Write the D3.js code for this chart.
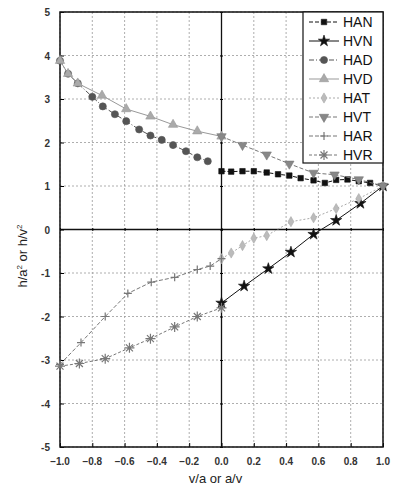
<!DOCTYPE html>
<html>
<head>
<meta charset="utf-8">
<script src="https://cdn.jsdelivr.net/npm/d3@7"></script>
<style>
  body { margin: 0; background: #fff; }
  svg { display: block; font-family: "Liberation Sans", Arial, sans-serif; }
</style>
</head>
<body>
<svg width="400" height="492"></svg>
<script>
// Series.
let hanX = [0, 0.06, 0.13, 0.2, 0.28, 0.35, 0.42, 0.49, 0.57, 0.64, 0.71, 0.78, 0.85, 0.92, 1.0];
let hanY = [1.34, 1.33, 1.34, 1.34, 1.31, 1.27, 1.24, 1.18, 1.13, 1.07, 1.14, 1.15, 1.11, 1.07, 1.0];

let hvnX = [0, 0.14, 0.29, 0.43, 0.57, 0.71, 0.86, 1.0];
let hvnY = [-1.69, -1.30, -0.90, -0.52, -0.11, 0.21, 0.60, 1.0];

let hadX = [-1.0, -0.95, -0.89, -0.80, -0.735, -0.66, -0.59, -0.51, -0.44, -0.37, -0.30, -0.22, -0.15, -0.085];
let hadY = [3.88, 3.58, 3.36, 3.05, 2.83, 2.65, 2.49, 2.30, 2.16, 2.06, 1.94, 1.80, 1.66, 1.57];

let hvdX = [-1.0, -0.95, -0.89, -0.74, -0.59, -0.44, -0.30, -0.15, 0];
let hvdY = [3.88, 3.58, 3.36, 3.08, 2.77, 2.60, 2.41, 2.26, 2.14];

let hatX = [0, 0.06, 0.13, 0.2, 0.28, 0.43, 0.57, 0.71, 0.85, 1.0];
let hatY = [-0.67, -0.54, -0.37, -0.20, -0.14, 0.18, 0.27, 0.48, 0.71, 1.0];

let hvtX = [0, 0.13, 0.28, 0.42, 0.57, 0.70, 0.85, 1.0];
let hvtY = [2.14, 1.94, 1.72, 1.51, 1.30, 1.26, 1.15, 1.0];

let harX = [-1.0, -0.87, -0.72, -0.58, -0.435, -0.29, -0.15, -0.07, 0];
let harY = [-3.10, -2.60, -2.00, -1.47, -1.21, -1.10, -0.92, -0.84, -0.67];

let hvrX = [-1.0, -0.88, -0.72, -0.57, -0.44, -0.29, -0.15, 0];
let hvrY = [-3.14, -3.08, -2.97, -2.72, -2.51, -2.24, -2.0, -1.80];

let seriesNames = ["HAN", "HVN", "HAD", "HVD", "HAT", "HVT", "HAR", "HVR"];
let xTicks = [-1.0, -0.8, -0.6, -0.4, -0.2, 0.0, 0.2, 0.4, 0.6, 0.8, 1.0];
let yTicks = [-5, -4, -3, -2, -1, 0, 1, 2, 3, 4, 5];

// Style for each series: marker, colour, line dash.
let styles = {
    HAN: { shape: "square", fill: "#111", stroke: "#111", dash: "4,2", size: 30 },
    HVN: { shape: "star", fill: "#111", stroke: "#111", dash: null, size: 40 },
    HAD: { shape: "circle", fill: "#555", stroke: "#555", dash: "5,2,1,2", size: 40 },
    HVD: { shape: "triangle", fill: "#aaa", stroke: "#999", dash: null, size: 38 },
    HAT: { shape: "diamond", fill: "#bbb", stroke: "#aaa", dash: "2,2", size: 30 },
    HVT: { shape: "tridown", fill: "#888", stroke: "#777", dash: "4,2", size: 38 },
    HAR: { shape: "plus", fill: "none", stroke: "#777", dash: "4,2", size: 4 },
    HVR: { shape: "asterisk", fill: "none", stroke: "#777", dash: "3,2", size: 5 }
};

let data = {
    HAN: d3.zip(hanX, hanY), HVN: d3.zip(hvnX, hvnY),
    HAD: d3.zip(hadX, hadY), HVD: d3.zip(hvdX, hvdY),
    HAT: d3.zip(hatX, hatY), HVT: d3.zip(hvtX, hvtY),
    HAR: d3.zip(harX, harY), HVR: d3.zip(hvrX, hvrY)
};

let svg = d3.select("svg");
let pLeft = 60, pRight = 383, pTop = 12, pBottom = 447;

let x = d3.scaleLinear().domain([-1, 1]).range([pLeft, pRight]);
let y = d3.scaleLinear().domain([-5, 5]).range([pBottom, pTop]);

// Dotted grid.
let grid = svg.append("g").attr("stroke", "#999").attr("stroke-width", 0.8).attr("stroke-dasharray", "2,2");
xTicks.forEach(function (t) {
    grid.append("line").attr("x1", x(t)).attr("x2", x(t)).attr("y1", pTop).attr("y2", pBottom);
});
yTicks.forEach(function (t) {
    grid.append("line").attr("x1", pLeft).attr("x2", pRight).attr("y1", y(t)).attr("y2", y(t));
});

// Zero lines through the middle, with cross ticks.
svg.append("line").attr("x1", pLeft).attr("x2", pRight).attr("y1", y(0)).attr("y2", y(0))
    .attr("stroke", "#111").attr("stroke-width", 1.3);
svg.append("line").attr("x1", x(0)).attr("x2", x(0)).attr("y1", pTop).attr("y2", pBottom)
    .attr("stroke", "#111").attr("stroke-width", 1.3);

let axisX = d3.axisBottom(x).tickValues(xTicks).tickSize(3).tickFormat("");
let axisY = d3.axisRight(y).tickValues(yTicks).tickSize(3).tickFormat("");
svg.append("g").attr("transform", "translate(0," + (y(0) - 1.5) + ")").call(axisX).call(g => g.select(".domain").remove());
svg.append("g").attr("transform", "translate(" + (x(0) - 1.5) + ",0)").call(axisY).call(g => g.select(".domain").remove());

// Frame axes with inward ticks and labels.
svg.append("g").attr("transform", "translate(0," + pBottom + ")")
    .call(d3.axisTop(x).tickValues(xTicks).tickSize(4).tickFormat(""))
    .call(g => g.select(".domain").remove());
svg.append("g").attr("transform", "translate(" + pLeft + ",0)")
    .call(d3.axisRight(y).tickValues(yTicks).tickSize(4).tickFormat(""))
    .call(g => g.select(".domain").remove());

svg.append("rect").attr("x", pLeft).attr("y", pTop).attr("width", pRight - pLeft).attr("height", pBottom - pTop)
    .attr("fill", "none").attr("stroke", "#111").attr("stroke-width", 1.5);

svg.append("g").selectAll("text").data(xTicks).join("text")
    .attr("x", d => x(d)).attr("y", pBottom + 18)
    .attr("text-anchor", "middle").attr("font-size", 10).attr("font-weight", "bold").attr("fill", "#333")
    .text(d => d3.format(".1f")(d));

svg.append("g").selectAll("text").data(yTicks).join("text")
    .attr("x", pLeft - 10).attr("y", d => y(d) + 4)
    .attr("text-anchor", "end").attr("font-size", 10).attr("font-weight", "bold").attr("fill", "#333")
    .text(d => d);

svg.append("text").attr("x", (pLeft + pRight) / 2 - 6).attr("y", 483)
    .attr("text-anchor", "middle").attr("font-size", 13).attr("fill", "#222")
    .text("v/a or a/v");

let yl = svg.append("text").attr("transform", "translate(27,256) rotate(-90)")
    .attr("text-anchor", "middle").attr("font-size", 13).attr("fill", "#222");
yl.append("tspan").text("h/a");
yl.append("tspan").attr("dy", -5).attr("font-size", 8).text("2");
yl.append("tspan").attr("dy", 5).text(" or h/v");
yl.append("tspan").attr("dy", -5).attr("font-size", 8).text("2");

// Marker drawing.
let markerPath = function (shape, size) {
    if (shape === "square") return d3.symbol(d3.symbolSquare, size)();
    if (shape === "star") return d3.symbol(d3.symbolStar, size)();
    if (shape === "circle") return d3.symbol(d3.symbolCircle, size)();
    if (shape === "triangle") return d3.symbol(d3.symbolTriangle, size)();
    if (shape === "tridown") return d3.symbol(d3.symbolTriangle, size)();
    if (shape === "diamond") return d3.symbol(d3.symbolDiamond, size)();
    if (shape === "plus") return "M" + (-size) + ",0H" + size + "M0," + (-size) + "V" + size;
    if (shape === "asterisk") {
        let s = size, d = size * 0.7;
        return "M" + (-s) + ",0H" + s + "M0," + (-s) + "V" + s +
            "M" + (-d) + "," + (-d) + "L" + d + "," + d + "M" + (-d) + "," + d + "L" + d + "," + (-d);
    }
};

let drawMarker = function (g, st, px, py) {
    g.append("path")
        .attr("d", markerPath(st.shape, st.size))
        .attr("transform", "translate(" + px + "," + py + ")" + (st.shape === "tridown" ? " rotate(180)" : ""))
        .attr("fill", st.fill)
        .attr("stroke", st.stroke)
        .attr("stroke-width", st.fill === "none" ? 1.2 : 0.6);
};

let line = d3.line().x(d => x(d[0])).y(d => y(d[1]));

seriesNames.forEach(function (name) {
    let st = styles[name];
    let g = svg.append("g");
    g.append("path").datum(data[name]).attr("d", line)
        .attr("fill", "none").attr("stroke", st.stroke).attr("stroke-width", 1)
        .attr("stroke-dasharray", st.dash);
    data[name].forEach(function (p) { drawMarker(g, st, x(p[0]), y(p[1])); });
});

// Legend box in upper right.
let lg = svg.append("g");
lg.append("rect").attr("x", 303).attr("y", pTop).attr("width", pRight - 303).attr("height", 151)
    .attr("fill", "#fff").attr("stroke", "#111").attr("stroke-width", 1.2);
seriesNames.forEach(function (name, i) {
    let st = styles[name];
    let ly = 22 + i * 19;
    lg.append("line").attr("x1", 309).attr("x2", 339).attr("y1", ly).attr("y2", ly)
        .attr("stroke", st.stroke).attr("stroke-width", 1).attr("stroke-dasharray", st.dash);
    drawMarker(lg, st, 324, ly);
    lg.append("text").attr("x", 343).attr("y", ly + 5).attr("font-size", 14).attr("fill", "#111")
        .text(name);
});
</script>
</body>
</html>
